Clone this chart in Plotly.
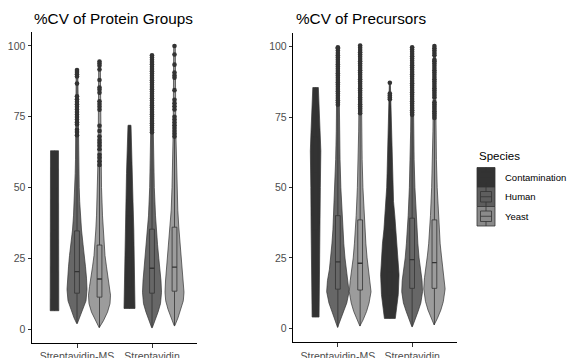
import plotly.graph_objects as go

# ---------------- data ----------------
categories = ["Streptavidin-MS", "Streptavidin"]
species = ["Contamination", "Human", "Yeast"]
panel_titles = ["%CV of Protein Groups", "%CV of Precursors"]
y_ticks = [0, 25, 50, 75, 100]

# violin density profiles: (y levels, density) per panel/category/species
pg_ms_cont_y = [6.5, 15, 30, 45, 55, 63]
pg_ms_cont_d = [4.3, 4.2, 4.1, 4.0, 4.0, 4.0]
pg_ms_human_y = [2, 4, 7, 10, 14, 18, 22, 26, 30, 35, 40, 45, 50, 55, 60, 70, 80, 91.5]
pg_ms_human_d = [0.3, 3, 6, 9, 10, 9.5, 8.5, 7.5, 6, 4.5, 3.5, 2.7, 2.2, 1.8, 1.5, 1.2, 1.0, 0.8]
pg_ms_yeast_y = [0.5, 3, 6, 9, 12, 15, 18, 22, 26, 30, 35, 40, 50, 60, 70, 94.5]
pg_ms_yeast_d = [0.3, 4, 8, 10.5, 11, 10, 8.5, 7, 5.5, 4.5, 3.7, 3, 2, 1.5, 1.2, 0.8]
pg_st_cont_y = [7.3, 15, 25, 35, 45, 55, 63, 68, 72]
pg_st_cont_d = [5.5, 5.2, 4.8, 4.3, 3.5, 3.0, 2.3, 1.9, 1.5]
pg_st_human_y = [0.5, 3, 6, 9, 13, 17, 21, 25, 30, 35, 40, 50, 60, 70, 96.7]
pg_st_human_d = [0.3, 3, 6, 8.5, 9.5, 9, 8, 6.8, 5.5, 4.3, 3.5, 2.3, 1.7, 1.3, 0.8]
pg_st_yeast_y = [1.2, 4, 7, 10, 13, 17, 21, 25, 30, 36, 42, 50, 60, 70, 100]
pg_st_yeast_d = [0.3, 3.5, 6.5, 8.8, 9.5, 9, 8, 7.2, 5.8, 4.3, 3.3, 2.5, 1.8, 1.3, 0.8]

pr_ms_cont_y = [4, 10, 20, 35, 50, 63, 70, 78, 85.5]
pr_ms_cont_d = [3.5, 3.8, 4.2, 4.5, 4.8, 5.3, 4.6, 3.8, 2.8]
pr_ms_human_y = [0.3, 3, 6, 9, 13, 17, 21, 25, 30, 35, 40, 50, 60, 70, 80, 99.8]
pr_ms_human_d = [0.3, 3, 6, 9, 11.3, 10.5, 8.5, 7.2, 6, 5, 4.3, 3, 2.2, 1.6, 1.3, 0.8]
pr_ms_yeast_y = [0.8, 3, 6, 9, 13, 17, 21, 25, 30, 35, 40, 50, 60, 70, 80, 100.5]
pr_ms_yeast_d = [0.3, 3, 6.5, 9, 11, 10, 8.3, 7, 5.8, 4.8, 4, 2.8, 2, 1.5, 1.2, 0.8]
pr_st_cont_y = [3.5, 8, 12, 19, 25, 30, 35, 40, 45, 50, 55, 60, 65, 70, 75, 80, 87.2]
pr_st_cont_d = [5.5, 7, 8.5, 9.3, 8.7, 7.5, 6, 5, 3.7, 3.2, 2.8, 2.5, 2, 1.5, 1.2, 1.0, 0.5]
pr_st_human_y = [0.6, 3, 6, 9, 13, 17, 21, 25, 30, 35, 40, 50, 60, 70, 80, 99.8]
pr_st_human_d = [0.3, 3, 6, 8.8, 10.5, 10, 8.3, 7, 5.8, 4.8, 4, 2.8, 2, 1.5, 1.2, 0.8]
pr_st_yeast_y = [1.2, 3.5, 6.5, 9.5, 14, 18, 22, 26, 30, 35, 40, 50, 60, 70, 80, 100.2]
pr_st_yeast_d = [0.3, 3, 6.5, 9, 10.8, 10, 8.3, 7, 5.8, 4.8, 4, 2.8, 2, 1.5, 1.2, 0.8]

# box statistics: [lowerfence, q1, median, q3, upperfence]
pg_ms_cont_box = [6.5, 20, 35, 50, 63]
pg_ms_human_box = [2, 12.7, 20.3, 34.7, 68]
pg_ms_yeast_box = [0.6, 11.3, 17.7, 29.7, 57.5]
pg_st_cont_box = [7.3, 15, 25, 40, 72]
pg_st_human_box = [0.6, 12.7, 21.5, 35.3, 69]
pg_st_yeast_box = [1.2, 13.4, 21.9, 36, 67.5]
pr_ms_cont_box = [4, 35, 55, 68, 85.5]
pr_ms_human_box = [0.4, 13.9, 23.6, 40, 79]
pr_ms_yeast_box = [0.8, 13.6, 23.1, 38.5, 76]
pr_st_cont_box = [3.5, 12, 20, 35, 70]
pr_st_human_box = [0.6, 14.2, 24.4, 39.1, 75.5]
pr_st_yeast_box = [1.2, 14.2, 23.3, 38.5, 74.4]

# outliers
pg_ms_human_out = [91.5, 90.8, 90.0, 89.2, 86.7, 82.2, 81.2, 80.3, 79.4, 78.5, 77.6, 76.7,
                   75.8, 74.9, 74.0, 73.1, 72.3, 70.4, 69.6, 68.5]
pg_ms_yeast_out = [94.5, 93.8, 93.0, 91.7, 88.0, 85.3, 84.5, 83.5, 80.5, 79.5, 78.5, 77.5,
                   71.8, 70.0, 68.0, 66.8, 65.8, 64.8, 63.5, 61.6, 60.5, 59.3, 58.0]
pg_st_human_out = [69.5, 70.3, 71.1, 71.9, 72.7, 73.5, 74.3, 75.1, 75.9, 76.7, 77.5, 78.3,
                   79.1, 79.9, 80.7, 81.5, 82.3, 83.1, 83.9, 84.7, 85.5, 86.3, 87.1, 87.9,
                   88.7, 89.5, 90.3, 91.1, 91.9, 92.7, 93.5, 94.3, 95.1, 95.9, 96.7]
pg_st_yeast_out = [100.0, 97.0, 93.4, 90.6, 89.6, 88.8, 84.4, 81.0, 79.8, 78.7, 77.6, 75.0,
                   74.0, 73.0, 72.0, 71.0, 70.0, 69.0, 68.0]
pr_ms_human_out = [79.4, 80.2, 81.0, 81.8, 82.6, 83.4, 84.2, 85.0, 85.8, 86.6, 87.4, 88.2,
                   89.0, 89.8, 90.6, 91.4, 92.2, 93.0, 93.8, 94.6, 95.4, 96.2, 97.0, 97.8,
                   98.6, 99.4, 99.8]
pr_ms_yeast_out = [76.4, 77.2, 78.0, 78.8, 79.6, 80.4, 81.2, 82.0, 82.8, 83.6, 84.4, 85.2,
                   86.0, 86.8, 87.6, 88.4, 89.2, 90.0, 90.8, 91.6, 92.4, 93.2, 94.0, 94.8,
                   95.6, 96.4, 97.2, 98.0, 98.8, 99.6, 100.4]
pr_st_cont_out = [81.3, 82.0, 82.7, 83.4, 87.2]
pr_st_human_out = [75.8, 76.6, 77.4, 78.2, 79.0, 79.8, 80.6, 81.4, 82.2, 83.0, 83.8, 84.6,
                   85.4, 86.2, 87.0, 87.8, 88.6, 89.4, 90.2, 91.0, 91.8, 92.6, 93.4, 94.2,
                   95.0, 95.8, 96.6, 97.4, 98.2, 99.0, 99.8]
pr_st_yeast_out = [74.7, 75.5, 76.3, 77.1, 77.9, 78.7, 79.5, 80.3, 82.0, 82.8, 83.6, 84.4,
                   85.2, 86.0, 86.8, 87.6, 88.4, 89.2, 90.0, 90.8, 91.6, 92.4, 93.2, 94.0,
                   94.8, 95.4, 97.0, 97.8, 98.6, 99.4, 100.2]

# ---------------- styling ----------------
W, H = 569, 358
FILL = {"Contamination": "#333333", "Human": "#676767", "Yeast": "#9c9c9c"}
LINE = "#333333"
DODGE = [-0.3, 0.0, 0.3]
DENS_SCALE = 1 / 75.0
BOX_HALF = 0.032
FONT = "Liberation Sans, Arial, sans-serif"

panels = [
    {  # protein groups
        "violins": [
            [(pg_ms_cont_y, pg_ms_cont_d), (pg_ms_human_y, pg_ms_human_d), (pg_ms_yeast_y, pg_ms_yeast_d)],
            [(pg_st_cont_y, pg_st_cont_d), (pg_st_human_y, pg_st_human_d), (pg_st_yeast_y, pg_st_yeast_d)],
        ],
        "boxes": [[pg_ms_cont_box, pg_ms_human_box, pg_ms_yeast_box],
                  [pg_st_cont_box, pg_st_human_box, pg_st_yeast_box]],
        "outliers": [[[], pg_ms_human_out, pg_ms_yeast_out],
                     [[], pg_st_human_out, pg_st_yeast_out]],
    },
    {  # precursors
        "violins": [
            [(pr_ms_cont_y, pr_ms_cont_d), (pr_ms_human_y, pr_ms_human_d), (pr_ms_yeast_y, pr_ms_yeast_d)],
            [(pr_st_cont_y, pr_st_cont_d), (pr_st_human_y, pr_st_human_d), (pr_st_yeast_y, pr_st_yeast_d)],
        ],
        "boxes": [[pr_ms_cont_box, pr_ms_human_box, pr_ms_yeast_box],
                  [pr_st_cont_box, pr_st_human_box, pr_st_yeast_box]],
        "outliers": [[[], pr_ms_human_out, pr_ms_yeast_out],
                     [pr_st_cont_out, pr_st_human_out, pr_st_yeast_out]],
    },
]

fig = go.Figure()
axis_ids = [("x", "y"), ("x2", "y2")]
lw = dict(color=LINE, width=0.8)

for p, panel in enumerate(panels):
    xa, ya = axis_ids[p]
    # violins
    for c in range(len(categories)):
        for s, sp in enumerate(species):
            ys, ds = panel["violins"][c][s]
            center = c + 1 + DODGE[s]
            left = [center - d * DENS_SCALE for d in ds]
            right = [center + d * DENS_SCALE for d in ds]
            fig.add_trace(go.Scatter(
                x=left + right[::-1] + [left[0]], y=list(ys) + list(ys)[::-1] + [ys[0]],
                fill="toself", fillcolor=FILL[sp], mode="lines",
                line=dict(color=LINE, width=0.7), xaxis=xa, yaxis=ya,
                showlegend=False, hoverinfo="skip"))
    # boxes (whiskers, box, median) drawn on top of violins
    for c in range(len(categories)):
        for s, sp in enumerate(species):
            lf, q1, med, q3, uf = panel["boxes"][c][s]
            center = c + 1 + DODGE[s]
            x0, x1 = center - BOX_HALF, center + BOX_HALF
            fig.add_trace(go.Scatter(
                x=[center, center, None, center, center], y=[lf, q1, None, q3, uf],
                mode="lines", line=lw, xaxis=xa, yaxis=ya,
                showlegend=False, hoverinfo="skip"))
            fig.add_trace(go.Scatter(
                x=[x0, x1, x1, x0, x0], y=[q1, q1, q3, q3, q1],
                fill="toself", fillcolor=FILL[sp], mode="lines", line=lw,
                xaxis=xa, yaxis=ya, showlegend=False, hoverinfo="skip"))
            fig.add_trace(go.Scatter(
                x=[x0, x1], y=[med, med], mode="lines",
                line=dict(color=LINE, width=1.3), xaxis=xa, yaxis=ya,
                showlegend=False, hoverinfo="skip"))
    # outliers
    for c in range(len(categories)):
        for s, sp in enumerate(species):
            outs = panel["outliers"][c][s]
            if not outs:
                continue
            center = c + 1 + DODGE[s]
            fig.add_trace(go.Scatter(
                x=[center] * len(outs), y=outs, mode="markers",
                marker=dict(color=LINE, size=4.6, line=dict(width=0)),
                xaxis=xa, yaxis=ya, showlegend=False, hoverinfo="skip"))


def px(x):
    return x / W


def py(y):
    return 1 - y / H


axis_common = dict(showgrid=False, zeroline=False, showline=True, linecolor="#000000",
                   linewidth=1, ticks="outside", ticklen=3.5, tickwidth=1,
                   tickcolor="#333333", automargin=False,
                   tickfont=dict(family=FONT, size=10.5, color="#4d4d4d"))

fig.update_layout(
    template="none",
    width=W, height=H, margin=dict(l=0, r=0, t=0, b=0, autoexpand=False),
    plot_bgcolor="white", paper_bgcolor="white",
    xaxis=dict(domain=[px(32), px(197)], range=[0.4, 2.6], tickvals=[1, 2],
               ticktext=categories, anchor="y", **axis_common),
    yaxis=dict(domain=[py(343.3), py(31.8)], range=[-5, 105], tickvals=y_ticks,
               anchor="x", **axis_common),
    xaxis2=dict(domain=[px(293.3), px(456.7)], range=[0.4, 2.6], tickvals=[1, 2],
                ticktext=categories, anchor="y2", **axis_common),
    yaxis2=dict(domain=[py(342.4), py(32.6)], range=[-5, 105], tickvals=y_ticks,
                anchor="x2", **axis_common),
)

annotations = [
    dict(text=panel_titles[0], x=px(31.5), y=py(18), xref="paper", yref="paper",
         xanchor="left", yanchor="middle", showarrow=False,
         font=dict(family=FONT, size=15.3, color="#000000")),
    dict(text=panel_titles[1], x=px(293.5), y=py(18), xref="paper", yref="paper",
         xanchor="left", yanchor="middle", showarrow=False,
         font=dict(family=FONT, size=15.3, color="#000000")),
    dict(text="Species", x=px(476.5), y=py(155.5), xref="paper", yref="paper",
         xanchor="left", yanchor="middle", showarrow=False,
         font=dict(family=FONT, size=11.5, color="#000000")),
]

# legend keys
key_tops = [167.5, 187.0, 206.5]
key_h = 19.5
key_x0, key_x1 = 477, 495
LEG_FILL = {"Contamination": "#333333", "Human": "#5e5e5e", "Yeast": "#8a8a8a"}
shapes = []
for i, sp in enumerate(species):
    t = key_tops[i]
    b = t + key_h
    shapes.append(dict(type="rect", xref="paper", yref="paper",
                       x0=px(key_x0), x1=px(key_x1), y0=py(b), y1=py(t),
                       fillcolor=LEG_FILL[sp], line=dict(color=LINE, width=0.8)))
    bt, bb = t + 4.5, b - 4.5
    mid = (t + b) / 2
    cx = (key_x0 + key_x1) / 2
    shapes.append(dict(type="rect", xref="paper", yref="paper",
                       x0=px(key_x0 + 3.5), x1=px(key_x1 - 3.5), y0=py(bb), y1=py(bt),
                       fillcolor=LEG_FILL[sp], line=dict(color=LINE, width=0.8)))
    shapes.append(dict(type="line", xref="paper", yref="paper",
                       x0=px(key_x0 + 3.5), x1=px(key_x1 - 3.5), y0=py(mid), y1=py(mid),
                       line=dict(color=LINE, width=0.8)))
    shapes.append(dict(type="line", xref="paper", yref="paper",
                       x0=px(cx), x1=px(cx), y0=py(t), y1=py(bt),
                       line=dict(color=LINE, width=0.8)))
    shapes.append(dict(type="line", xref="paper", yref="paper",
                       x0=px(cx), x1=px(cx), y0=py(bb), y1=py(b),
                       line=dict(color=LINE, width=0.8)))
    annotations.append(dict(text=sp, x=px(502.5), y=py(t + key_h / 2), xref="paper",
                            yref="paper", xanchor="left", yanchor="middle",
                            showarrow=False,
                            font=dict(family=FONT, size=9.5, color="#000000")))

fig.update_layout(annotations=annotations, shapes=shapes)
fig.write_html("out.html", config={"displayModeBar": False},
               post_script="document.body.style.margin='0px';document.body.style.overflow='hidden';")
